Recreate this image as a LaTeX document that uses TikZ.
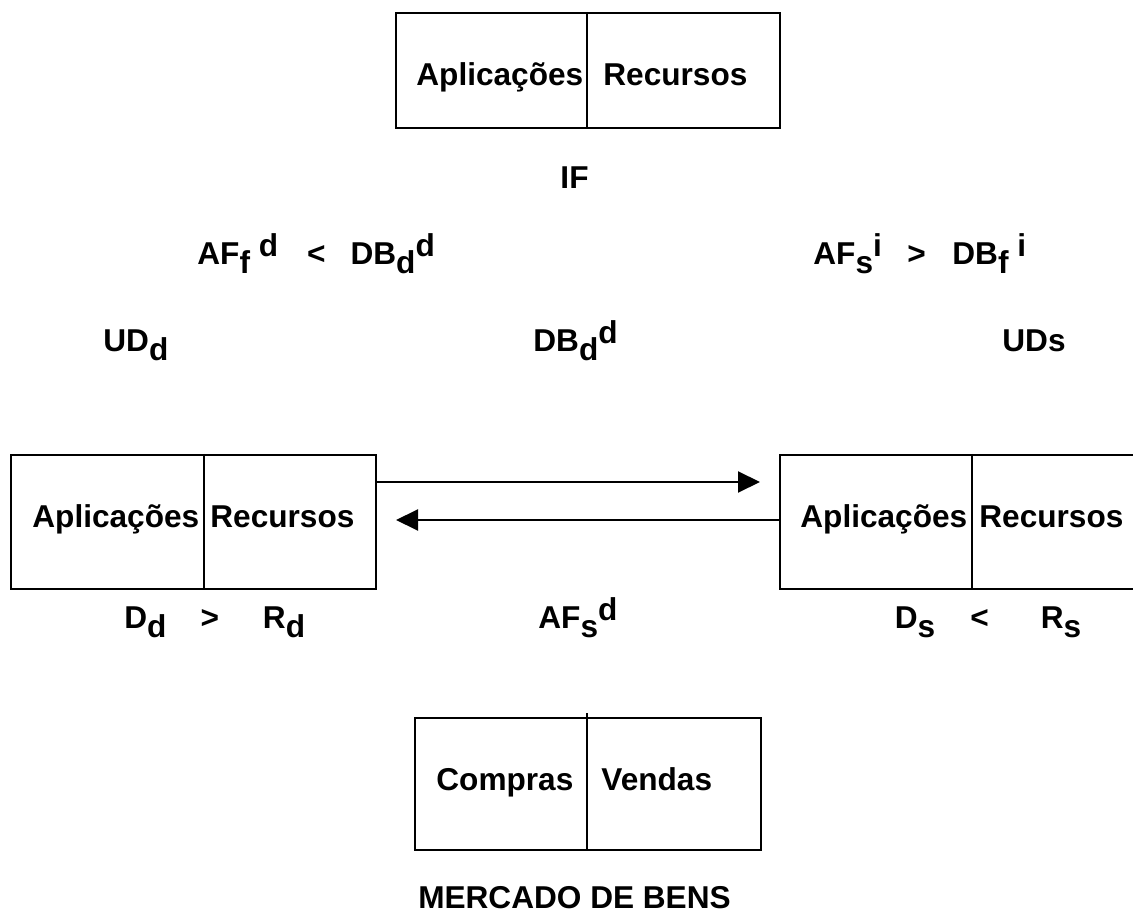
\documentclass[tikz,border=0pt]{standalone}
\usepackage{fontspec}
\setmainfont{Liberation Sans}
\usetikzlibrary{arrows.meta}
\newcommand{\lowr}[1]{\raisebox{-4.5pt}{#1}}
\newcommand{\highr}[1]{\raisebox{4pt}{#1}}
\tikzset{
  caixa/.style={draw, line width=1pt, inner sep=0pt},
  txt/.style={inner sep=0pt, anchor=base west},
  meio/.style={inner sep=0pt, anchor=base},
}
\begin{document}
\begin{tikzpicture}[x=0.5pt,y=-0.5pt,>={Triangle[length=11pt,width=10.5pt]},
  every node/.style={font=\fontsize{15.8}{19}\selectfont\bfseries}]
\clip (0,0) rectangle (1133,913);
% caixas
\node (ifb) at (588,70.5) [caixa, minimum width=192pt, minimum height=57.5pt]{};
\node (ddb) at (193.5,522) [caixa, minimum width=182.5pt, minimum height=67pt]{};
\node (dsb) at (960,522) [caixa, minimum width=180pt, minimum height=67pt]{};
\node (mbb) at (588,784) [caixa, minimum width=173pt, minimum height=66pt]{};
\draw[line width=0.6pt] (ifb.north -| 587,0) -- (ifb.south -| 587,0);
\draw[line width=0.6pt] (ddb.north -| 204,0) -- (ddb.south -| 204,0);
\draw[line width=0.6pt] (dsb.north -| 972,0) -- (dsb.south -| 972,0);
\draw[line width=0.6pt] (587,713) -- (mbb.south -| 587,0);

% setas
\coordinate (pontaD) at (760,482);
\coordinate (pontaE) at (396,520);
\draw[line width=1pt, ->] (ddb.east |- pontaD) -- (pontaD);
\draw[line width=1pt, ->] (dsb.west |- pontaE) -- (pontaE);

% textos
\node (ifA) at (416,86) [txt]{Aplicações};
\node (ifR) at (603,86) [txt]{Recursos};
\node (if) at (574.5,189) [meio]{IF};
\node (eqa) at (197,265) [txt]{AF\lowr{f} \highr{d}\hspace{14.5pt}<\hspace{12.5pt}DB\lowr{d}\highr{d}};
\node (eqb) at (813,265) [txt]{AF\lowr{s}\highr{i}\hspace{12.75pt}>\hspace{13.3pt}DB\lowr{f} \highr{i}};
\node (udd) at (103,352) [txt]{UD\lowr{d}};
\node (dbd) at (533,352) [txt]{DB\lowr{d}\highr{d}};
\node (uds) at (1002,352) [txt]{UDs};
\node (ddA) at (32,527) [txt]{Aplicações};
\node (ddR) at (210,527) [txt]{Recursos};
\node (dsA) at (800,527) [txt]{Aplicações};
\node (dsR) at (979,527) [txt]{Recursos};
\node (eqc) at (124,628) [txt]{D\lowr{d}\hspace{17pt}>\hspace{22pt}R\lowr{d}};
\node (afs) at (538,628) [txt]{AF\lowr{s}\highr{d}};
\node (eqd) at (894.5,628) [txt]{D\lowr{s}\hspace{17.5pt}<\hspace{26pt}R\lowr{s}};
\node (comp) at (436,790) [txt]{Compras};
\node (vend) at (601,790) [txt]{Vendas};
\node (mb) at (574.5,908) [meio]{MERCADO DE BENS};

\end{tikzpicture}
\end{document}
